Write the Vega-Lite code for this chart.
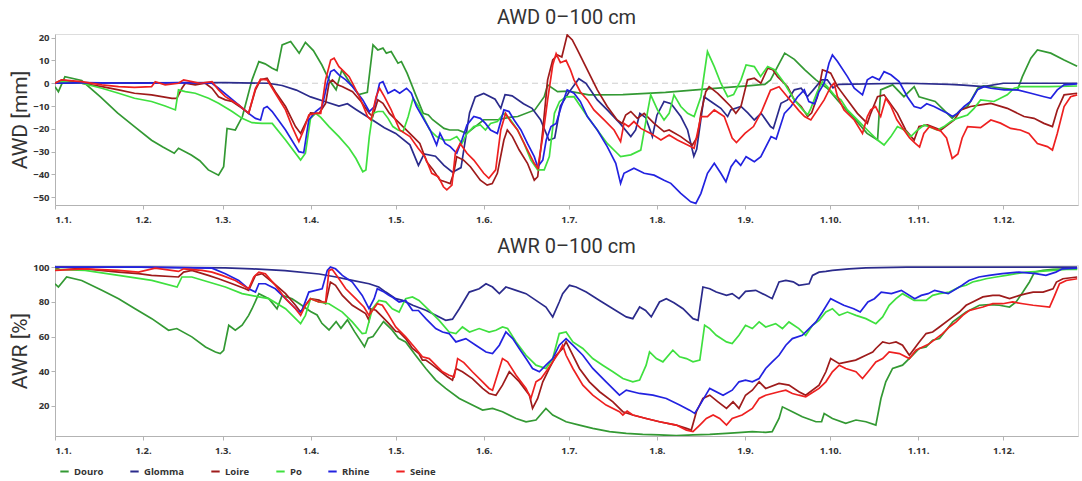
{
"$schema": "https://vega.github.io/schema/vega-lite/v6.json",
"background": "white",
"padding": {"left": 9, "top": 7, "right": 0, "bottom": 0},
"config": {
  "font": "Open Sans",
  "view": {"stroke": "#dddddd"},
  "axis": {"domainColor": "#b3b3b3", "tickColor": "#b3b3b3", "grid": false, "labelFont": "Open Sans", "labelFontWeight": "bold", "labelFontSize": 9.5, "labelColor": "#333333", "labelOverlap": false, "titleFont": "Roboto", "titleFontWeight": "normal", "titleFontSize": 21, "titleColor": "#333333", "tickSize": 4},
  "axisX": {"labelPadding": 5},
  "axisY": {"titlePadding": 2},
  "title": {"font": "Roboto", "fontSize": 20, "fontWeight": "normal", "color": "#333333", "anchor": "middle", "offset": 5},
  "legend": {"orient": "none", "legendX": 4, "legendY": 432, "direction": "horizontal", "symbolType": "stroke", "symbolStrokeWidth": 2, "symbolSize": 70, "labelFont": "Open Sans", "labelFontWeight": "bold", "labelFontSize": 9.5, "labelColor": "#333333", "columnPadding": 22, "title": null},
  "concat": {"spacing": 12}
},
"datasets": {
"awd": [
{"r":"Douro","d":0,"v":-1.5},{"r":"Douro","d":1.2,"v":-3.7},{"r":"Douro","d":3.5,"v":2.9},{"r":"Douro","d":9.4,"v":1.2},{"r":"Douro","d":16,"v":-6},{"r":"Douro","d":22,"v":-13},{"r":"Douro","d":28,"v":-19},{"r":"Douro","d":34,"v":-25},{"r":"Douro","d":38,"v":-28},{"r":"Douro","d":42,"v":-30.7},{"r":"Douro","d":43.5,"v":-28.5},{"r":"Douro","d":48,"v":-31.5},{"r":"Douro","d":51,"v":-34},{"r":"Douro","d":54,"v":-38},{"r":"Douro","d":57.6,"v":-40.3},{"r":"Douro","d":59.4,"v":-36.6},{"r":"Douro","d":60.6,"v":-19.8},{"r":"Douro","d":63.5,"v":-20.5},{"r":"Douro","d":66,"v":-14.6},{"r":"Douro","d":69.4,"v":1.5},{"r":"Douro","d":71.8,"v":9.5},{"r":"Douro","d":74,"v":8.5},{"r":"Douro","d":76.5,"v":6.6},{"r":"Douro","d":78.2,"v":5.6},{"r":"Douro","d":80,"v":16.8},{"r":"Douro","d":83,"v":18.3},{"r":"Douro","d":86,"v":13.2},{"r":"Douro","d":88.2,"v":17.9},{"r":"Douro","d":91,"v":14.3},{"r":"Douro","d":94,"v":8},{"r":"Douro","d":96.5,"v":1.5},{"r":"Douro","d":99,"v":-2.9},{"r":"Douro","d":101,"v":5.8},{"r":"Douro","d":104,"v":0},{"r":"Douro","d":107,"v":-5},{"r":"Douro","d":110,"v":-4},{"r":"Douro","d":112,"v":16.8},{"r":"Douro","d":113.7,"v":14.6},{"r":"Douro","d":115.5,"v":15.4},{"r":"Douro","d":116.7,"v":13.2},{"r":"Douro","d":118.4,"v":13.9},{"r":"Douro","d":120.8,"v":8.8},{"r":"Douro","d":122,"v":9.5},{"r":"Douro","d":124,"v":4.4},{"r":"Douro","d":127,"v":-5},{"r":"Douro","d":129.7,"v":-13.2},{"r":"Douro","d":131.5,"v":-13.9},{"r":"Douro","d":133,"v":-16},{"r":"Douro","d":137,"v":-19.8},{"r":"Douro","d":139,"v":-20.5},{"r":"Douro","d":142,"v":-20.5},{"r":"Douro","d":145,"v":-22},{"r":"Douro","d":148,"v":-19},{"r":"Douro","d":151,"v":-16},{"r":"Douro","d":156,"v":-16},{"r":"Douro","d":160,"v":-15},{"r":"Douro","d":163,"v":-14.6},{"r":"Douro","d":169,"v":-11.7},{"r":"Douro","d":172.3,"v":-5.9},{"r":"Douro","d":173.5,"v":-0.7},{"r":"Douro","d":177,"v":-3.7},{"r":"Douro","d":181,"v":-3.5},{"r":"Douro","d":188,"v":-5.1},{"r":"Douro","d":200,"v":-5},{"r":"Douro","d":215,"v":-4},{"r":"Douro","d":230,"v":-2.5},{"r":"Douro","d":245,"v":-1},{"r":"Douro","d":250,"v":-0.5},{"r":"Douro","d":252,"v":1.5},{"r":"Douro","d":257,"v":13.2},{"r":"Douro","d":260.4,"v":10.5},{"r":"Douro","d":264,"v":6},{"r":"Douro","d":268,"v":1.5},{"r":"Douro","d":272,"v":-2.2},{"r":"Douro","d":276,"v":-8},{"r":"Douro","d":281.5,"v":-15.4},{"r":"Douro","d":286,"v":-22},{"r":"Douro","d":289.7,"v":-24.9},{"r":"Douro","d":290.8,"v":-2.9},{"r":"Douro","d":295,"v":-0.7},{"r":"Douro","d":299,"v":-5.9},{"r":"Douro","d":302.6,"v":-1.5},{"r":"Douro","d":304.3,"v":-5.9},{"r":"Douro","d":310,"v":-8},{"r":"Douro","d":313,"v":-11.7},{"r":"Douro","d":316,"v":-15.4},{"r":"Douro","d":319,"v":-11.7},{"r":"Douro","d":321.4,"v":-10.2},{"r":"Douro","d":325,"v":-2.2},{"r":"Douro","d":327,"v":-1.2},{"r":"Douro","d":334,"v":-2.2},{"r":"Douro","d":339,"v":-2.9},{"r":"Douro","d":340.7,"v":2.9},{"r":"Douro","d":343.7,"v":11},{"r":"Douro","d":346,"v":14.6},{"r":"Douro","d":350.7,"v":13.2},{"r":"Douro","d":355.4,"v":10.2},{"r":"Douro","d":360,"v":7.5},
{"r":"Glomma","d":0,"v":0},{"r":"Glomma","d":30,"v":0.2},{"r":"Glomma","d":60,"v":0.3},{"r":"Glomma","d":75,"v":0},{"r":"Glomma","d":80,"v":-1},{"r":"Glomma","d":85,"v":-3},{"r":"Glomma","d":90,"v":-6},{"r":"Glomma","d":95,"v":-8},{"r":"Glomma","d":100,"v":-10},{"r":"Glomma","d":103,"v":-9},{"r":"Glomma","d":106,"v":-11.5},{"r":"Glomma","d":111,"v":-15.5},{"r":"Glomma","d":116,"v":-19.5},{"r":"Glomma","d":120,"v":-22},{"r":"Glomma","d":125,"v":-27},{"r":"Glomma","d":128,"v":-36},{"r":"Glomma","d":130,"v":-31},{"r":"Glomma","d":134,"v":-32},{"r":"Glomma","d":137,"v":-36},{"r":"Glomma","d":140,"v":-39},{"r":"Glomma","d":143,"v":-37},{"r":"Glomma","d":146,"v":-13},{"r":"Glomma","d":148,"v":-6},{"r":"Glomma","d":151,"v":-4.5},{"r":"Glomma","d":155,"v":-7},{"r":"Glomma","d":157,"v":-11},{"r":"Glomma","d":158.5,"v":-5},{"r":"Glomma","d":161,"v":-5.5},{"r":"Glomma","d":165,"v":-9},{"r":"Glomma","d":168,"v":-11},{"r":"Glomma","d":171,"v":-16},{"r":"Glomma","d":174,"v":-25},{"r":"Glomma","d":176,"v":-24},{"r":"Glomma","d":178,"v":-10},{"r":"Glomma","d":181,"v":-4},{"r":"Glomma","d":184.5,"v":2},{"r":"Glomma","d":187,"v":0},{"r":"Glomma","d":191,"v":-7.3},{"r":"Glomma","d":194.5,"v":-11.7},{"r":"Glomma","d":199,"v":-17.6},{"r":"Glomma","d":202.8,"v":-23.4},{"r":"Glomma","d":204.5,"v":-20.5},{"r":"Glomma","d":206,"v":-13.2},{"r":"Glomma","d":208,"v":-15},{"r":"Glomma","d":210.4,"v":-23.4},{"r":"Glomma","d":212,"v":-14},{"r":"Glomma","d":214.5,"v":-8},{"r":"Glomma","d":217,"v":-9},{"r":"Glomma","d":220.4,"v":-14.6},{"r":"Glomma","d":222.8,"v":-20.5},{"r":"Glomma","d":225,"v":-32},{"r":"Glomma","d":226,"v":-29},{"r":"Glomma","d":228.6,"v":-5.9},{"r":"Glomma","d":231,"v":-8},{"r":"Glomma","d":234.5,"v":-11},{"r":"Glomma","d":236.9,"v":-14.6},{"r":"Glomma","d":238,"v":-11.7},{"r":"Glomma","d":241.6,"v":-10.2},{"r":"Glomma","d":244,"v":-13},{"r":"Glomma","d":246.3,"v":-16.1},{"r":"Glomma","d":248.7,"v":-13.2},{"r":"Glomma","d":252,"v":-19},{"r":"Glomma","d":253,"v":-19.8},{"r":"Glomma","d":255.7,"v":-8.8},{"r":"Glomma","d":258,"v":-7.3},{"r":"Glomma","d":260.4,"v":-2.9},{"r":"Glomma","d":262.8,"v":-2.2},{"r":"Glomma","d":265,"v":-5.9},{"r":"Glomma","d":267,"v":-3},{"r":"Glomma","d":270,"v":1.5},{"r":"Glomma","d":272,"v":1.5},{"r":"Glomma","d":274,"v":-2},{"r":"Glomma","d":276,"v":-0.5},{"r":"Glomma","d":300,"v":0},{"r":"Glomma","d":315,"v":-0.5},{"r":"Glomma","d":320,"v":-0.8},{"r":"Glomma","d":327,"v":-1.5},{"r":"Glomma","d":334,"v":0},{"r":"Glomma","d":360,"v":0},
{"r":"Loire","d":0,"v":0},{"r":"Loire","d":2.4,"v":1.5},{"r":"Loire","d":9.4,"v":0},{"r":"Loire","d":16.5,"v":-1.5},{"r":"Loire","d":22.4,"v":-2.9},{"r":"Loire","d":28,"v":-4.4},{"r":"Loire","d":34,"v":-5.1},{"r":"Loire","d":37.6,"v":-5.9},{"r":"Loire","d":41.2,"v":-6.6},{"r":"Loire","d":42.9,"v":-6.6},{"r":"Loire","d":44.7,"v":-2.2},{"r":"Loire","d":45.9,"v":0},{"r":"Loire","d":49.4,"v":-0.7},{"r":"Loire","d":52.9,"v":0},{"r":"Loire","d":55.3,"v":-2.2},{"r":"Loire","d":57.6,"v":-5.9},{"r":"Loire","d":60,"v":-7.3},{"r":"Loire","d":62.4,"v":-8},{"r":"Loire","d":65.9,"v":-11},{"r":"Loire","d":68.2,"v":-13.2},{"r":"Loire","d":70.6,"v":-2.9},{"r":"Loire","d":72.4,"v":1.5},{"r":"Loire","d":74.7,"v":2.2},{"r":"Loire","d":77.6,"v":-3.7},{"r":"Loire","d":81.2,"v":-10.2},{"r":"Loire","d":84.7,"v":-19},{"r":"Loire","d":86.5,"v":-22},{"r":"Loire","d":88.2,"v":-17.6},{"r":"Loire","d":90,"v":-13},{"r":"Loire","d":93,"v":-13.2},{"r":"Loire","d":95.3,"v":-8.8},{"r":"Loire","d":96.5,"v":0},{"r":"Loire","d":97.7,"v":1.5},{"r":"Loire","d":99.5,"v":-0.7},{"r":"Loire","d":101.3,"v":-1.5},{"r":"Loire","d":104.8,"v":-3.7},{"r":"Loire","d":107.8,"v":-8},{"r":"Loire","d":110.7,"v":-13.2},{"r":"Loire","d":111.9,"v":-14.6},{"r":"Loire","d":113.7,"v":-7.3},{"r":"Loire","d":115.5,"v":-8.8},{"r":"Loire","d":117.8,"v":-13.2},{"r":"Loire","d":121.4,"v":-17.6},{"r":"Loire","d":126.1,"v":-23.4},{"r":"Loire","d":128.5,"v":-26.4},{"r":"Loire","d":130.9,"v":-34.4},{"r":"Loire","d":133.2,"v":-38},{"r":"Loire","d":135.6,"v":-42.5},{"r":"Loire","d":137.4,"v":-43.2},{"r":"Loire","d":139.2,"v":-44},{"r":"Loire","d":140.4,"v":-39.5},{"r":"Loire","d":141.5,"v":-32.2},{"r":"Loire","d":143.9,"v":-33.7},{"r":"Loire","d":146.3,"v":-36.6},{"r":"Loire","d":149.8,"v":-42.5},{"r":"Loire","d":152.2,"v":-44.7},{"r":"Loire","d":154,"v":-44},{"r":"Loire","d":155.8,"v":-39.5},{"r":"Loire","d":158.1,"v":-24.9},{"r":"Loire","d":159.3,"v":-20.5},{"r":"Loire","d":161.1,"v":-23.4},{"r":"Loire","d":163.5,"v":-29.3},{"r":"Loire","d":166.4,"v":-35.1},{"r":"Loire","d":168.8,"v":-42.5},{"r":"Loire","d":170,"v":-41},{"r":"Loire","d":171.8,"v":-20.5},{"r":"Loire","d":173.5,"v":1.5},{"r":"Loire","d":175.3,"v":10.2},{"r":"Loire","d":177,"v":12.4},{"r":"Loire","d":178.5,"v":11.5},{"r":"Loire","d":180.4,"v":21.2},{"r":"Loire","d":182.2,"v":19},{"r":"Loire","d":184,"v":14.6},{"r":"Loire","d":187.5,"v":5.9},{"r":"Loire","d":191,"v":-2.9},{"r":"Loire","d":194.5,"v":-10.2},{"r":"Loire","d":198,"v":-16.1},{"r":"Loire","d":199.8,"v":-17.6},{"r":"Loire","d":201,"v":-13.9},{"r":"Loire","d":202.8,"v":-12.4},{"r":"Loire","d":205.1,"v":-15.4},{"r":"Loire","d":207.5,"v":-13.2},{"r":"Loire","d":211,"v":-17.6},{"r":"Loire","d":214.5,"v":-21.2},{"r":"Loire","d":216.3,"v":-20.5},{"r":"Loire","d":220.4,"v":-23.4},{"r":"Loire","d":222.8,"v":-25.6},{"r":"Loire","d":224.5,"v":-27.1},{"r":"Loire","d":226.3,"v":-23.4},{"r":"Loire","d":227.5,"v":-13.2},{"r":"Loire","d":229.2,"v":-3.7},{"r":"Loire","d":230.4,"v":-1.5},{"r":"Loire","d":233.4,"v":-4.4},{"r":"Loire","d":235.7,"v":-7.3},{"r":"Loire","d":238,"v":-10.2},{"r":"Loire","d":239.8,"v":-13.2},{"r":"Loire","d":241.6,"v":-10.2},{"r":"Loire","d":243.9,"v":1.5},{"r":"Loire","d":246.3,"v":2.2},{"r":"Loire","d":248.6,"v":0},{"r":"Loire","d":251,"v":6.6},{"r":"Loire","d":252.8,"v":5.9},{"r":"Loire","d":254.5,"v":2.9},{"r":"Loire","d":258,"v":-1.5},{"r":"Loire","d":260.4,"v":-7.3},{"r":"Loire","d":262.8,"v":-10.2},{"r":"Loire","d":265.1,"v":-14.6},{"r":"Loire","d":266.5,"v":-13},{"r":"Loire","d":268.5,"v":-5.9},{"r":"Loire","d":270.3,"v":5.9},{"r":"Loire","d":272,"v":5.1},{"r":"Loire","d":273.2,"v":4.4},{"r":"Loire","d":275.6,"v":-1.5},{"r":"Loire","d":279.1,"v":-7.3},{"r":"Loire","d":282.6,"v":-13.2},{"r":"Loire","d":286.1,"v":-17.6},{"r":"Loire","d":287.3,"v":-13.2},{"r":"Loire","d":289.7,"v":-5.9},{"r":"Loire","d":292,"v":-5.1},{"r":"Loire","d":296.7,"v":-13.2},{"r":"Loire","d":299.6,"v":-20.5},{"r":"Loire","d":302.6,"v":-24.9},{"r":"Loire","d":304.3,"v":-19},{"r":"Loire","d":307.3,"v":-18.3},{"r":"Loire","d":312,"v":-20.5},{"r":"Loire","d":316.7,"v":-16.1},{"r":"Loire","d":319,"v":-11.7},{"r":"Loire","d":322.5,"v":-10.2},{"r":"Loire","d":326,"v":-9.5},{"r":"Loire","d":329.6,"v":-8.8},{"r":"Loire","d":335.4,"v":-11},{"r":"Loire","d":341.3,"v":-14.6},{"r":"Loire","d":344.8,"v":-15.4},{"r":"Loire","d":348.3,"v":-17.6},{"r":"Loire","d":351.3,"v":-19},{"r":"Loire","d":353,"v":-11.7},{"r":"Loire","d":355.4,"v":-5.1},{"r":"Loire","d":360,"v":-4.4},
{"r":"Po","d":0,"v":0},{"r":"Po","d":2.4,"v":0.7},{"r":"Po","d":9.4,"v":0},{"r":"Po","d":16.5,"v":-2.2},{"r":"Po","d":22.4,"v":-4.4},{"r":"Po","d":28,"v":-6.6},{"r":"Po","d":34,"v":-8},{"r":"Po","d":38.8,"v":-10},{"r":"Po","d":42.4,"v":-11.7},{"r":"Po","d":43.5,"v":-2.9},{"r":"Po","d":45.9,"v":-3.7},{"r":"Po","d":49.4,"v":-4.4},{"r":"Po","d":54.1,"v":-6.6},{"r":"Po","d":57.6,"v":-8.8},{"r":"Po","d":62.4,"v":-12.4},{"r":"Po","d":65.9,"v":-15.4},{"r":"Po","d":69.4,"v":-17.3},{"r":"Po","d":72.9,"v":-17.6},{"r":"Po","d":76.5,"v":-17.6},{"r":"Po","d":81.2,"v":-24.9},{"r":"Po","d":86.5,"v":-33.7},{"r":"Po","d":88.2,"v":-30.7},{"r":"Po","d":90,"v":-15.4},{"r":"Po","d":91.8,"v":-13.2},{"r":"Po","d":93.6,"v":-15},{"r":"Po","d":96.5,"v":-19},{"r":"Po","d":100,"v":-23.4},{"r":"Po","d":103.6,"v":-28.5},{"r":"Po","d":106,"v":-33},{"r":"Po","d":108.4,"v":-38.8},{"r":"Po","d":109.5,"v":-38},{"r":"Po","d":110.7,"v":-23.4},{"r":"Po","d":111.9,"v":-13.2},{"r":"Po","d":113.7,"v":-12.4},{"r":"Po","d":115.5,"v":-12.4},{"r":"Po","d":117.3,"v":-15.4},{"r":"Po","d":119,"v":-19},{"r":"Po","d":120.8,"v":-20.5},{"r":"Po","d":122.6,"v":-21.2},{"r":"Po","d":124.4,"v":-14.6},{"r":"Po","d":126.1,"v":-6.6},{"r":"Po","d":128,"v":-10.2},{"r":"Po","d":129.7,"v":-14.6},{"r":"Po","d":132,"v":-20.5},{"r":"Po","d":134.4,"v":-23.4},{"r":"Po","d":136.8,"v":-24.9},{"r":"Po","d":139.2,"v":-24.9},{"r":"Po","d":141.5,"v":-23.4},{"r":"Po","d":143.3,"v":-26.4},{"r":"Po","d":145.1,"v":-22},{"r":"Po","d":147.5,"v":-19},{"r":"Po","d":149.8,"v":-18.3},{"r":"Po","d":151.6,"v":-20.5},{"r":"Po","d":153.4,"v":-17.6},{"r":"Po","d":155.8,"v":-16.8},{"r":"Po","d":158.1,"v":-13.2},{"r":"Po","d":160.5,"v":-16.1},{"r":"Po","d":162.9,"v":-20.5},{"r":"Po","d":165.2,"v":-26.4},{"r":"Po","d":167.6,"v":-33.7},{"r":"Po","d":170,"v":-38},{"r":"Po","d":172.3,"v":-38},{"r":"Po","d":174.1,"v":-32.2},{"r":"Po","d":175.9,"v":-13.2},{"r":"Po","d":177.7,"v":-8},{"r":"Po","d":180,"v":-6},{"r":"Po","d":182.8,"v":-5.9},{"r":"Po","d":185,"v":-10},{"r":"Po","d":187.5,"v":-14.6},{"r":"Po","d":191,"v":-20.5},{"r":"Po","d":194.5,"v":-26.4},{"r":"Po","d":198,"v":-30.7},{"r":"Po","d":199.2,"v":-32.2},{"r":"Po","d":202.8,"v":-31.4},{"r":"Po","d":206.3,"v":-29.3},{"r":"Po","d":208.6,"v":-13.2},{"r":"Po","d":209.8,"v":-5.1},{"r":"Po","d":212.2,"v":-11.7},{"r":"Po","d":214.5,"v":-16.1},{"r":"Po","d":216.3,"v":-13.2},{"r":"Po","d":218,"v":-5.1},{"r":"Po","d":220.4,"v":-10.2},{"r":"Po","d":222.8,"v":-13.2},{"r":"Po","d":225.1,"v":-14.6},{"r":"Po","d":227.5,"v":-5.9},{"r":"Po","d":229.8,"v":13.9},{"r":"Po","d":232.2,"v":7.3},{"r":"Po","d":234.5,"v":0},{"r":"Po","d":236.9,"v":-5.9},{"r":"Po","d":239,"v":-5},{"r":"Po","d":241.6,"v":1.5},{"r":"Po","d":243.4,"v":8},{"r":"Po","d":246.3,"v":7.3},{"r":"Po","d":248.5,"v":3},{"r":"Po","d":251,"v":7.3},{"r":"Po","d":253.4,"v":5.9},{"r":"Po","d":256.9,"v":0},{"r":"Po","d":260.4,"v":-7.3},{"r":"Po","d":263.4,"v":-11.7},{"r":"Po","d":265.1,"v":-13.9},{"r":"Po","d":266.2,"v":-11},{"r":"Po","d":268.5,"v":-3.7},{"r":"Po","d":270.3,"v":0.7},{"r":"Po","d":272,"v":-1.5},{"r":"Po","d":274.4,"v":-5.1},{"r":"Po","d":276.8,"v":-7.3},{"r":"Po","d":279.1,"v":-11.7},{"r":"Po","d":282.6,"v":-16.1},{"r":"Po","d":286.1,"v":-20.5},{"r":"Po","d":289.7,"v":-24.9},{"r":"Po","d":292,"v":-27.1},{"r":"Po","d":294.4,"v":-23.4},{"r":"Po","d":296.7,"v":-19},{"r":"Po","d":299.1,"v":-20.5},{"r":"Po","d":301.4,"v":-23.4},{"r":"Po","d":303.8,"v":-20.5},{"r":"Po","d":306.1,"v":-18.3},{"r":"Po","d":310.8,"v":-20.5},{"r":"Po","d":313.1,"v":-19},{"r":"Po","d":315.5,"v":-16.8},{"r":"Po","d":317.8,"v":-15.4},{"r":"Po","d":321.4,"v":-13.9},{"r":"Po","d":323.7,"v":-11},{"r":"Po","d":326,"v":-7.3},{"r":"Po","d":330.7,"v":-8},{"r":"Po","d":335.4,"v":-5.1},{"r":"Po","d":337.8,"v":-2.2},{"r":"Po","d":340,"v":-1.5},{"r":"Po","d":350,"v":-1.5},{"r":"Po","d":360,"v":-1.2},
{"r":"Rhine","d":0,"v":0},{"r":"Rhine","d":10,"v":0.3},{"r":"Rhine","d":30,"v":0},{"r":"Rhine","d":45,"v":0.3},{"r":"Rhine","d":55.3,"v":0},{"r":"Rhine","d":57.6,"v":-2.2},{"r":"Rhine","d":61.2,"v":-5.9},{"r":"Rhine","d":64.7,"v":-9.5},{"r":"Rhine","d":68.2,"v":-13.2},{"r":"Rhine","d":70.6,"v":-15.4},{"r":"Rhine","d":72.4,"v":-16.1},{"r":"Rhine","d":73.5,"v":-11},{"r":"Rhine","d":74.7,"v":-10.2},{"r":"Rhine","d":76.5,"v":-12.4},{"r":"Rhine","d":81.2,"v":-20.5},{"r":"Rhine","d":85.9,"v":-30},{"r":"Rhine","d":87.6,"v":-30.5},{"r":"Rhine","d":89.4,"v":-16.1},{"r":"Rhine","d":91.8,"v":-12.4},{"r":"Rhine","d":94.1,"v":-10.2},{"r":"Rhine","d":95.9,"v":0},{"r":"Rhine","d":97.1,"v":5.1},{"r":"Rhine","d":98.3,"v":5.9},{"r":"Rhine","d":100,"v":3.7},{"r":"Rhine","d":102.4,"v":1.5},{"r":"Rhine","d":104.8,"v":-1.5},{"r":"Rhine","d":108.4,"v":-7.3},{"r":"Rhine","d":110.7,"v":-12.4},{"r":"Rhine","d":112.5,"v":-10.2},{"r":"Rhine","d":114.3,"v":0},{"r":"Rhine","d":115.5,"v":0.7},{"r":"Rhine","d":117.3,"v":-4.4},{"r":"Rhine","d":119.6,"v":-2.9},{"r":"Rhine","d":121.4,"v":-4.4},{"r":"Rhine","d":123.8,"v":-2.2},{"r":"Rhine","d":125.5,"v":-4.4},{"r":"Rhine","d":127.3,"v":-10.2},{"r":"Rhine","d":129.7,"v":-15.4},{"r":"Rhine","d":132.1,"v":-20.5},{"r":"Rhine","d":134.4,"v":-27.1},{"r":"Rhine","d":135.6,"v":-22},{"r":"Rhine","d":137.4,"v":-26.4},{"r":"Rhine","d":139.2,"v":-27.8},{"r":"Rhine","d":141.5,"v":-30.7},{"r":"Rhine","d":143.3,"v":-24.9},{"r":"Rhine","d":145.1,"v":-18.3},{"r":"Rhine","d":147.5,"v":-14.6},{"r":"Rhine","d":149.8,"v":-15.4},{"r":"Rhine","d":151.6,"v":-17.6},{"r":"Rhine","d":153.4,"v":-20.5},{"r":"Rhine","d":155.8,"v":-22},{"r":"Rhine","d":158.1,"v":-11.7},{"r":"Rhine","d":159.9,"v":-12.4},{"r":"Rhine","d":161.7,"v":-16.1},{"r":"Rhine","d":164.1,"v":-20.5},{"r":"Rhine","d":166.4,"v":-26.4},{"r":"Rhine","d":168.8,"v":-32.2},{"r":"Rhine","d":170,"v":-36.6},{"r":"Rhine","d":171.8,"v":-33.7},{"r":"Rhine","d":173,"v":-24.9},{"r":"Rhine","d":174.7,"v":-19},{"r":"Rhine","d":176.5,"v":-17.6},{"r":"Rhine","d":178.3,"v":-10.2},{"r":"Rhine","d":180.4,"v":-2.9},{"r":"Rhine","d":182.8,"v":-4.4},{"r":"Rhine","d":185,"v":-8},{"r":"Rhine","d":187.5,"v":-14.6},{"r":"Rhine","d":191,"v":-20.5},{"r":"Rhine","d":194.5,"v":-27.8},{"r":"Rhine","d":197.5,"v":-35.1},{"r":"Rhine","d":199.2,"v":-43.9},{"r":"Rhine","d":200.4,"v":-39.5},{"r":"Rhine","d":203.9,"v":-37.3},{"r":"Rhine","d":207.5,"v":-39.5},{"r":"Rhine","d":211,"v":-40.3},{"r":"Rhine","d":214.5,"v":-42.5},{"r":"Rhine","d":216.9,"v":-43.9},{"r":"Rhine","d":220.4,"v":-48.3},{"r":"Rhine","d":223.9,"v":-52},{"r":"Rhine","d":225.7,"v":-52.7},{"r":"Rhine","d":227.5,"v":-48.3},{"r":"Rhine","d":229.8,"v":-39.5},{"r":"Rhine","d":232.2,"v":-35.1},{"r":"Rhine","d":234.5,"v":-39.5},{"r":"Rhine","d":236.3,"v":-43.2},{"r":"Rhine","d":238.1,"v":-36.6},{"r":"Rhine","d":239.8,"v":-33.7},{"r":"Rhine","d":241.5,"v":-36},{"r":"Rhine","d":243.4,"v":-32.2},{"r":"Rhine","d":246.3,"v":-34.4},{"r":"Rhine","d":248.6,"v":-32.2},{"r":"Rhine","d":252.2,"v":-23.4},{"r":"Rhine","d":254,"v":-24.5},{"r":"Rhine","d":256.9,"v":-13.2},{"r":"Rhine","d":259.2,"v":-10.2},{"r":"Rhine","d":261.5,"v":-6},{"r":"Rhine","d":263.9,"v":-2.9},{"r":"Rhine","d":265.5,"v":-8},{"r":"Rhine","d":267.5,"v":-9},{"r":"Rhine","d":269,"v":-4},{"r":"Rhine","d":270.9,"v":0},{"r":"Rhine","d":272.6,"v":8.8},{"r":"Rhine","d":273.8,"v":12.4},{"r":"Rhine","d":275.6,"v":9.5},{"r":"Rhine","d":279.1,"v":2.9},{"r":"Rhine","d":281.5,"v":-2.2},{"r":"Rhine","d":284.4,"v":-5.1},{"r":"Rhine","d":286.1,"v":1.5},{"r":"Rhine","d":287.9,"v":2.9},{"r":"Rhine","d":290.3,"v":1.5},{"r":"Rhine","d":292,"v":5.1},{"r":"Rhine","d":294.4,"v":3.7},{"r":"Rhine","d":297.3,"v":0.7},{"r":"Rhine","d":300.2,"v":-5.9},{"r":"Rhine","d":302.6,"v":-10.2},{"r":"Rhine","d":304.9,"v":-11},{"r":"Rhine","d":307,"v":-9},{"r":"Rhine","d":309.6,"v":-10.2},{"r":"Rhine","d":312,"v":-11.7},{"r":"Rhine","d":314.3,"v":-13.2},{"r":"Rhine","d":316.1,"v":-14.6},{"r":"Rhine","d":317.8,"v":-13.2},{"r":"Rhine","d":320.2,"v":-10.2},{"r":"Rhine","d":322.5,"v":-8},{"r":"Rhine","d":324.9,"v":-2.9},{"r":"Rhine","d":327.2,"v":-1.5},{"r":"Rhine","d":329.6,"v":-2.2},{"r":"Rhine","d":334.3,"v":-2.9},{"r":"Rhine","d":339,"v":-2.9},{"r":"Rhine","d":343.7,"v":-4.4},{"r":"Rhine","d":348.4,"v":-5.9},{"r":"Rhine","d":350.7,"v":-6.6},{"r":"Rhine","d":353,"v":-2.9},{"r":"Rhine","d":355.4,"v":-0.7},{"r":"Rhine","d":360,"v":-0.3},
{"r":"Seine","d":0,"v":0},{"r":"Seine","d":2.4,"v":1.5},{"r":"Seine","d":9.4,"v":0.7},{"r":"Seine","d":16.5,"v":-0.7},{"r":"Seine","d":22.4,"v":-1.5},{"r":"Seine","d":28,"v":-1.8},{"r":"Seine","d":34,"v":-1.5},{"r":"Seine","d":35.3,"v":0.7},{"r":"Seine","d":38.8,"v":-0.7},{"r":"Seine","d":43.5,"v":0},{"r":"Seine","d":45.3,"v":1.5},{"r":"Seine","d":48.2,"v":0.7},{"r":"Seine","d":51,"v":0},{"r":"Seine","d":55.3,"v":0.7},{"r":"Seine","d":57.6,"v":-2.9},{"r":"Seine","d":60,"v":-5.9},{"r":"Seine","d":64.7,"v":-9.5},{"r":"Seine","d":68.2,"v":-13.2},{"r":"Seine","d":70.6,"v":-2.2},{"r":"Seine","d":72.4,"v":1.8},{"r":"Seine","d":74.7,"v":1.5},{"r":"Seine","d":77.6,"v":-4.4},{"r":"Seine","d":81.2,"v":-11.7},{"r":"Seine","d":83.5,"v":-19},{"r":"Seine","d":85.9,"v":-25.6},{"r":"Seine","d":87.6,"v":-20.5},{"r":"Seine","d":89.4,"v":-13.9},{"r":"Seine","d":91.8,"v":-13.2},{"r":"Seine","d":93.6,"v":-13.2},{"r":"Seine","d":95.3,"v":1.5},{"r":"Seine","d":97.1,"v":10.2},{"r":"Seine","d":98.3,"v":11},{"r":"Seine","d":100,"v":7.3},{"r":"Seine","d":101.8,"v":5.1},{"r":"Seine","d":103.6,"v":2.9},{"r":"Seine","d":107.2,"v":-5.9},{"r":"Seine","d":110.1,"v":-14.6},{"r":"Seine","d":111.3,"v":-16.1},{"r":"Seine","d":113.1,"v":-5.9},{"r":"Seine","d":114.3,"v":-2.2},{"r":"Seine","d":116,"v":-5.9},{"r":"Seine","d":118.4,"v":-11.7},{"r":"Seine","d":121.4,"v":-20.5},{"r":"Seine","d":125,"v":-23.4},{"r":"Seine","d":127.9,"v":-28.5},{"r":"Seine","d":130.3,"v":-32.2},{"r":"Seine","d":132.7,"v":-39.5},{"r":"Seine","d":135,"v":-41},{"r":"Seine","d":136.8,"v":-45.4},{"r":"Seine","d":138,"v":-46.8},{"r":"Seine","d":139.8,"v":-44.7},{"r":"Seine","d":141,"v":-30.7},{"r":"Seine","d":142.7,"v":-26.4},{"r":"Seine","d":145.1,"v":-30.7},{"r":"Seine","d":147.5,"v":-33.7},{"r":"Seine","d":151,"v":-39.5},{"r":"Seine","d":152.8,"v":-41.7},{"r":"Seine","d":155.2,"v":-38},{"r":"Seine","d":157,"v":-20.5},{"r":"Seine","d":158.7,"v":-13.2},{"r":"Seine","d":160.5,"v":-16.8},{"r":"Seine","d":162.9,"v":-20.5},{"r":"Seine","d":165.8,"v":-27.8},{"r":"Seine","d":168.8,"v":-35.1},{"r":"Seine","d":170,"v":-37.3},{"r":"Seine","d":171.8,"v":-23.4},{"r":"Seine","d":173.5,"v":-7.3},{"r":"Seine","d":175.3,"v":8},{"r":"Seine","d":176.5,"v":13},{"r":"Seine","d":178,"v":9},{"r":"Seine","d":180,"v":10},{"r":"Seine","d":181.5,"v":6},{"r":"Seine","d":182.8,"v":1.5},{"r":"Seine","d":185,"v":-3.7},{"r":"Seine","d":187.5,"v":-7.3},{"r":"Seine","d":189.8,"v":-11.7},{"r":"Seine","d":193.4,"v":-16.1},{"r":"Seine","d":196.9,"v":-20.5},{"r":"Seine","d":199.2,"v":-25.6},{"r":"Seine","d":200.4,"v":-17.6},{"r":"Seine","d":202,"v":-19},{"r":"Seine","d":203.9,"v":-16.8},{"r":"Seine","d":206.3,"v":-19.8},{"r":"Seine","d":209.8,"v":-22},{"r":"Seine","d":213.4,"v":-24.9},{"r":"Seine","d":216.3,"v":-22.7},{"r":"Seine","d":219.2,"v":-24.9},{"r":"Seine","d":222.8,"v":-27.1},{"r":"Seine","d":225.1,"v":-28.5},{"r":"Seine","d":227.5,"v":-14.6},{"r":"Seine","d":229.8,"v":-14.6},{"r":"Seine","d":232.2,"v":-11.7},{"r":"Seine","d":235.7,"v":-14.6},{"r":"Seine","d":238.5,"v":-24},{"r":"Seine","d":240,"v":-26},{"r":"Seine","d":243,"v":-22},{"r":"Seine","d":246,"v":-19},{"r":"Seine","d":249,"v":-12},{"r":"Seine","d":252,"v":-3},{"r":"Seine","d":255,"v":-1.5},{"r":"Seine","d":258,"v":-6},{"r":"Seine","d":262,"v":-12},{"r":"Seine","d":264,"v":-14.6},{"r":"Seine","d":266.2,"v":-16.1},{"r":"Seine","d":270.9,"v":-7.3},{"r":"Seine","d":273.2,"v":-1.5},{"r":"Seine","d":274.4,"v":0},{"r":"Seine","d":275.6,"v":-5.9},{"r":"Seine","d":277.9,"v":-11.7},{"r":"Seine","d":281.5,"v":-16.1},{"r":"Seine","d":284.4,"v":-22},{"r":"Seine","d":286.1,"v":-14.6},{"r":"Seine","d":287.3,"v":-11.7},{"r":"Seine","d":289,"v":-10.2},{"r":"Seine","d":290.8,"v":-14.6},{"r":"Seine","d":292.6,"v":-6.6},{"r":"Seine","d":294.4,"v":-10},{"r":"Seine","d":296.5,"v":-16},{"r":"Seine","d":299,"v":-20.5},{"r":"Seine","d":301,"v":-24},{"r":"Seine","d":303,"v":-26.4},{"r":"Seine","d":304.5,"v":-28},{"r":"Seine","d":306,"v":-22},{"r":"Seine","d":308,"v":-19},{"r":"Seine","d":310,"v":-20},{"r":"Seine","d":312,"v":-21},{"r":"Seine","d":314,"v":-24},{"r":"Seine","d":316,"v":-33},{"r":"Seine","d":318,"v":-31},{"r":"Seine","d":319.5,"v":-24},{"r":"Seine","d":321.4,"v":-19},{"r":"Seine","d":326,"v":-19.5},{"r":"Seine","d":329.6,"v":-16.1},{"r":"Seine","d":333,"v":-17.5},{"r":"Seine","d":336.6,"v":-19.8},{"r":"Seine","d":340,"v":-20.5},{"r":"Seine","d":343,"v":-22},{"r":"Seine","d":346,"v":-26.4},{"r":"Seine","d":349.5,"v":-27.8},{"r":"Seine","d":351.3,"v":-29.3},{"r":"Seine","d":353,"v":-22},{"r":"Seine","d":355.4,"v":-10.2},{"r":"Seine","d":357.7,"v":-5.9},{"r":"Seine","d":360,"v":-5.1}
],
"awr": [
{"r":"Douro","d":0,"v":90.4},{"r":"Douro","d":1.2,"v":88.5},{"r":"Douro","d":4.1,"v":94.3},{"r":"Douro","d":9.4,"v":92.3},{"r":"Douro","d":16.5,"v":86.6},{"r":"Douro","d":22.4,"v":81.8},{"r":"Douro","d":28.2,"v":76},{"r":"Douro","d":34.1,"v":70.3},{"r":"Douro","d":40,"v":63.6},{"r":"Douro","d":42.9,"v":64.6},{"r":"Douro","d":48.2,"v":59.8},{"r":"Douro","d":53,"v":54},{"r":"Douro","d":56.5,"v":51.1},{"r":"Douro","d":58.2,"v":50.2},{"r":"Douro","d":59.4,"v":52},{"r":"Douro","d":61.2,"v":66.5},{"r":"Douro","d":63.5,"v":63.6},{"r":"Douro","d":65.9,"v":66.5},{"r":"Douro","d":68.2,"v":72.2},{"r":"Douro","d":69.4,"v":76},{"r":"Douro","d":71.8,"v":84.7},{"r":"Douro","d":75.3,"v":81.8},{"r":"Douro","d":78.2,"v":76},{"r":"Douro","d":80,"v":83.7},{"r":"Douro","d":83.5,"v":81.8},{"r":"Douro","d":86,"v":79},{"r":"Douro","d":90,"v":74.4},{"r":"Douro","d":92.3,"v":72.4},{"r":"Douro","d":94,"v":67.6},{"r":"Douro","d":96.5,"v":63.8},{"r":"Douro","d":99,"v":68.6},{"r":"Douro","d":100.7,"v":64.7},{"r":"Douro","d":103,"v":69.6},{"r":"Douro","d":105.5,"v":62.8},{"r":"Douro","d":109,"v":54.1},{"r":"Douro","d":110.3,"v":59},{"r":"Douro","d":112,"v":60},{"r":"Douro","d":114,"v":64.7},{"r":"Douro","d":115.7,"v":68.6},{"r":"Douro","d":118.7,"v":63.8},{"r":"Douro","d":121,"v":59},{"r":"Douro","d":123.5,"v":56.9},{"r":"Douro","d":127,"v":49.2},{"r":"Douro","d":130.6,"v":41.6},{"r":"Douro","d":134.1,"v":34.9},{"r":"Douro","d":137.6,"v":30.1},{"r":"Douro","d":142.4,"v":24.3},{"r":"Douro","d":147,"v":20.5},{"r":"Douro","d":150.6,"v":17.6},{"r":"Douro","d":154.1,"v":18.6},{"r":"Douro","d":157.6,"v":16.7},{"r":"Douro","d":162.4,"v":12.8},{"r":"Douro","d":165.9,"v":10.9},{"r":"Douro","d":169.4,"v":11.9},{"r":"Douro","d":172.9,"v":18.6},{"r":"Douro","d":175.3,"v":14.8},{"r":"Douro","d":180,"v":10.9},{"r":"Douro","d":184.7,"v":9},{"r":"Douro","d":189.4,"v":7.1},{"r":"Douro","d":195.3,"v":5.2},{"r":"Douro","d":201.2,"v":4.2},{"r":"Douro","d":207,"v":3.6},{"r":"Douro","d":212.9,"v":3.3},{"r":"Douro","d":218.8,"v":2.9},{"r":"Douro","d":224.7,"v":3.3},{"r":"Douro","d":230.6,"v":3.6},{"r":"Douro","d":236.5,"v":4.2},{"r":"Douro","d":240.6,"v":4.6},{"r":"Douro","d":245.6,"v":5.2},{"r":"Douro","d":250.3,"v":4.8},{"r":"Douro","d":252.6,"v":5.2},{"r":"Douro","d":255,"v":12.8},{"r":"Douro","d":256.2,"v":19.5},{"r":"Douro","d":259.7,"v":16.7},{"r":"Douro","d":263.2,"v":13.8},{"r":"Douro","d":268,"v":10.9},{"r":"Douro","d":270,"v":11},{"r":"Douro","d":270.9,"v":15.7},{"r":"Douro","d":273.8,"v":12.8},{"r":"Douro","d":278.5,"v":10},{"r":"Douro","d":282.1,"v":11.9},{"r":"Douro","d":285.6,"v":10.9},{"r":"Douro","d":289.1,"v":9},{"r":"Douro","d":290.9,"v":24.3},{"r":"Douro","d":292.6,"v":33.9},{"r":"Douro","d":295,"v":41.6},{"r":"Douro","d":298.5,"v":43.5},{"r":"Douro","d":302,"v":49.2},{"r":"Douro","d":304.4,"v":53.1},{"r":"Douro","d":306.8,"v":54},{"r":"Douro","d":309.1,"v":57.9},{"r":"Douro","d":311.5,"v":58.8},{"r":"Douro","d":316.2,"v":68.4},{"r":"Douro","d":320.9,"v":74.1},{"r":"Douro","d":323.2,"v":76},{"r":"Douro","d":325.6,"v":78},{"r":"Douro","d":329.1,"v":78.4},{"r":"Douro","d":332.6,"v":78},{"r":"Douro","d":336.2,"v":77},{"r":"Douro","d":338.5,"v":79.9},{"r":"Douro","d":340.9,"v":85.6},{"r":"Douro","d":343.2,"v":91.4},{"r":"Douro","d":345,"v":97.1},{"r":"Douro","d":348,"v":98.1},{"r":"Douro","d":351.5,"v":98.7},{"r":"Douro","d":356.2,"v":99},{"r":"Douro","d":360,"v":99},
{"r":"Glomma","d":0,"v":100},{"r":"Glomma","d":30,"v":100},{"r":"Glomma","d":60,"v":99.5},{"r":"Glomma","d":69.4,"v":99},{"r":"Glomma","d":81,"v":98},{"r":"Glomma","d":93,"v":96},{"r":"Glomma","d":99,"v":94.3},{"r":"Glomma","d":104.7,"v":92.3},{"r":"Glomma","d":110.6,"v":90.4},{"r":"Glomma","d":114,"v":88.5},{"r":"Glomma","d":116.5,"v":85.6},{"r":"Glomma","d":120,"v":81.8},{"r":"Glomma","d":122.4,"v":80.8},{"r":"Glomma","d":126,"v":78},{"r":"Glomma","d":130.6,"v":75.1},{"r":"Glomma","d":134.1,"v":72.2},{"r":"Glomma","d":137.6,"v":69.3},{"r":"Glomma","d":140,"v":70},{"r":"Glomma","d":142.4,"v":76},{"r":"Glomma","d":145.9,"v":85.6},{"r":"Glomma","d":149.4,"v":87.5},{"r":"Glomma","d":151.8,"v":90.4},{"r":"Glomma","d":154.1,"v":88.5},{"r":"Glomma","d":156.5,"v":84.7},{"r":"Glomma","d":158.8,"v":88.5},{"r":"Glomma","d":162.4,"v":86.6},{"r":"Glomma","d":165.9,"v":84.7},{"r":"Glomma","d":169.4,"v":80.8},{"r":"Glomma","d":172.9,"v":77},{"r":"Glomma","d":175.3,"v":71.3},{"r":"Glomma","d":177.6,"v":79.9},{"r":"Glomma","d":178.8,"v":84.7},{"r":"Glomma","d":181.2,"v":89.5},{"r":"Glomma","d":183.5,"v":88.5},{"r":"Glomma","d":187.1,"v":85.6},{"r":"Glomma","d":191.8,"v":80.8},{"r":"Glomma","d":196.5,"v":76},{"r":"Glomma","d":201.2,"v":71.3},{"r":"Glomma","d":203.5,"v":70.3},{"r":"Glomma","d":205.9,"v":77},{"r":"Glomma","d":208,"v":75},{"r":"Glomma","d":210,"v":71.3},{"r":"Glomma","d":212.9,"v":79.9},{"r":"Glomma","d":215.3,"v":81.8},{"r":"Glomma","d":218,"v":79.5},{"r":"Glomma","d":221.2,"v":76},{"r":"Glomma","d":224.7,"v":70.3},{"r":"Glomma","d":226.5,"v":69.3},{"r":"Glomma","d":228.2,"v":88.5},{"r":"Glomma","d":230.6,"v":87.5},{"r":"Glomma","d":232.9,"v":85.6},{"r":"Glomma","d":236.5,"v":83.7},{"r":"Glomma","d":238.5,"v":84.7},{"r":"Glomma","d":240.9,"v":81.8},{"r":"Glomma","d":243.2,"v":86},{"r":"Glomma","d":246.8,"v":86.6},{"r":"Glomma","d":250,"v":84},{"r":"Glomma","d":252.6,"v":81.8},{"r":"Glomma","d":255,"v":91.4},{"r":"Glomma","d":257.4,"v":92.3},{"r":"Glomma","d":260,"v":91.5},{"r":"Glomma","d":262,"v":89.5},{"r":"Glomma","d":265.6,"v":90.4},{"r":"Glomma","d":266.8,"v":95.2},{"r":"Glomma","d":269.1,"v":97.1},{"r":"Glomma","d":271.5,"v":97.5},{"r":"Glomma","d":273.8,"v":98.1},{"r":"Glomma","d":279.7,"v":99},{"r":"Glomma","d":285.6,"v":99.6},{"r":"Glomma","d":300,"v":100},{"r":"Glomma","d":360,"v":100},
{"r":"Loire","d":0,"v":98.7},{"r":"Loire","d":2,"v":100},{"r":"Loire","d":10.6,"v":99},{"r":"Loire","d":22.4,"v":97.1},{"r":"Loire","d":29.4,"v":96.2},{"r":"Loire","d":34,"v":95.2},{"r":"Loire","d":43.5,"v":94.3},{"r":"Loire","d":45.3,"v":97.1},{"r":"Loire","d":48.2,"v":98.1},{"r":"Loire","d":54,"v":95.2},{"r":"Loire","d":57.6,"v":93.3},{"r":"Loire","d":62.4,"v":90.4},{"r":"Loire","d":67,"v":87.5},{"r":"Loire","d":68.2,"v":86.6},{"r":"Loire","d":70.6,"v":95.2},{"r":"Loire","d":72.9,"v":96.2},{"r":"Loire","d":76.5,"v":91.4},{"r":"Loire","d":81.2,"v":84.7},{"r":"Loire","d":84.7,"v":78},{"r":"Loire","d":86.5,"v":74.1},{"r":"Loire","d":88.2,"v":78},{"r":"Loire","d":90,"v":81.8},{"r":"Loire","d":93,"v":81},{"r":"Loire","d":95.3,"v":78.9},{"r":"Loire","d":97,"v":91.4},{"r":"Loire","d":98.8,"v":89.5},{"r":"Loire","d":101.2,"v":83.7},{"r":"Loire","d":104.7,"v":78},{"r":"Loire","d":109.4,"v":73.2},{"r":"Loire","d":110.6,"v":69.3},{"r":"Loire","d":111.2,"v":76},{"r":"Loire","d":113,"v":75.1},{"r":"Loire","d":115.3,"v":71.3},{"r":"Loire","d":117.6,"v":67.4},{"r":"Loire","d":120,"v":63},{"r":"Loire","d":121.2,"v":62.6},{"r":"Loire","d":123.5,"v":58.8},{"r":"Loire","d":125.9,"v":53.1},{"r":"Loire","d":128.2,"v":50.2},{"r":"Loire","d":129.4,"v":46.4},{"r":"Loire","d":130.6,"v":46.4},{"r":"Loire","d":133,"v":43.5},{"r":"Loire","d":135.3,"v":40.6},{"r":"Loire","d":138.2,"v":36.8},{"r":"Loire","d":140,"v":34.9},{"r":"Loire","d":141.2,"v":41.6},{"r":"Loire","d":143.5,"v":39.7},{"r":"Loire","d":147,"v":35.8},{"r":"Loire","d":150.6,"v":30.1},{"r":"Loire","d":152.9,"v":27.2},{"r":"Loire","d":155.3,"v":26.2},{"r":"Loire","d":157.6,"v":32},{"r":"Loire","d":160,"v":39.7},{"r":"Loire","d":163.5,"v":34},{"r":"Loire","d":167.1,"v":26.2},{"r":"Loire","d":168.2,"v":18.6},{"r":"Loire","d":170,"v":24.3},{"r":"Loire","d":171.8,"v":33.9},{"r":"Loire","d":174.1,"v":41.6},{"r":"Loire","d":176.5,"v":49.2},{"r":"Loire","d":178.8,"v":53.1},{"r":"Loire","d":180,"v":57},{"r":"Loire","d":181.8,"v":51.1},{"r":"Loire","d":184.7,"v":41.6},{"r":"Loire","d":188.2,"v":33.9},{"r":"Loire","d":191.8,"v":28.2},{"r":"Loire","d":196.5,"v":22.4},{"r":"Loire","d":198.8,"v":18.6},{"r":"Loire","d":200,"v":16.7},{"r":"Loire","d":203.5,"v":14.8},{"r":"Loire","d":208.2,"v":12.8},{"r":"Loire","d":212.9,"v":10.9},{"r":"Loire","d":218.8,"v":9},{"r":"Loire","d":222.4,"v":7.1},{"r":"Loire","d":224.1,"v":6.1},{"r":"Loire","d":225.9,"v":16.7},{"r":"Loire","d":228.2,"v":24.3},{"r":"Loire","d":230.6,"v":26.2},{"r":"Loire","d":233.5,"v":22.4},{"r":"Loire","d":236.5,"v":18.6},{"r":"Loire","d":238.8,"v":22.4},{"r":"Loire","d":240.9,"v":18.6},{"r":"Loire","d":243.2,"v":26.2},{"r":"Loire","d":245.6,"v":29.1},{"r":"Loire","d":248,"v":33.9},{"r":"Loire","d":250.3,"v":30.1},{"r":"Loire","d":255,"v":33},{"r":"Loire","d":258.5,"v":32},{"r":"Loire","d":262,"v":28.2},{"r":"Loire","d":264.4,"v":26.2},{"r":"Loire","d":269.1,"v":32},{"r":"Loire","d":271.5,"v":39.7},{"r":"Loire","d":273.2,"v":47.3},{"r":"Loire","d":276.2,"v":44.4},{"r":"Loire","d":282,"v":46.4},{"r":"Loire","d":285.6,"v":49.2},{"r":"Loire","d":288,"v":51.1},{"r":"Loire","d":289.1,"v":53.1},{"r":"Loire","d":291.5,"v":56.9},{"r":"Loire","d":293.8,"v":56},{"r":"Loire","d":296.2,"v":56.9},{"r":"Loire","d":298.5,"v":55},{"r":"Loire","d":300.9,"v":49.2},{"r":"Loire","d":304.4,"v":56.9},{"r":"Loire","d":306.8,"v":61.7},{"r":"Loire","d":309.1,"v":62.6},{"r":"Loire","d":311.5,"v":65.5},{"r":"Loire","d":316.2,"v":71.3},{"r":"Loire","d":318.5,"v":74.1},{"r":"Loire","d":320.9,"v":78},{"r":"Loire","d":323.2,"v":79.9},{"r":"Loire","d":326.8,"v":82.8},{"r":"Loire","d":330.3,"v":83.7},{"r":"Loire","d":332.6,"v":83.7},{"r":"Loire","d":336.2,"v":81.8},{"r":"Loire","d":339.7,"v":83.7},{"r":"Loire","d":342.1,"v":84.7},{"r":"Loire","d":344.5,"v":85.6},{"r":"Loire","d":348,"v":85.6},{"r":"Loire","d":351.5,"v":87.5},{"r":"Loire","d":352.7,"v":91.4},{"r":"Loire","d":355,"v":93.3},{"r":"Loire","d":360,"v":94.3},
{"r":"Po","d":0,"v":98.7},{"r":"Po","d":10.6,"v":98.1},{"r":"Po","d":22.4,"v":95.2},{"r":"Po","d":34.1,"v":92.3},{"r":"Po","d":43,"v":88.5},{"r":"Po","d":44.7,"v":94.3},{"r":"Po","d":48.2,"v":94.3},{"r":"Po","d":54.1,"v":91.4},{"r":"Po","d":60,"v":88.5},{"r":"Po","d":65.9,"v":84.7},{"r":"Po","d":71.8,"v":82.8},{"r":"Po","d":75.3,"v":81.8},{"r":"Po","d":81.2,"v":76},{"r":"Po","d":86.5,"v":67.4},{"r":"Po","d":88.2,"v":72.2},{"r":"Po","d":90,"v":81.8},{"r":"Po","d":92.9,"v":79.9},{"r":"Po","d":96.5,"v":78.9},{"r":"Po","d":101.2,"v":74.1},{"r":"Po","d":104.7,"v":68.4},{"r":"Po","d":108.2,"v":61.7},{"r":"Po","d":109.5,"v":62},{"r":"Po","d":111.8,"v":76},{"r":"Po","d":114.1,"v":80.8},{"r":"Po","d":116.5,"v":80},{"r":"Po","d":118.8,"v":76},{"r":"Po","d":121.2,"v":74.1},{"r":"Po","d":123.5,"v":81.8},{"r":"Po","d":125.9,"v":82.8},{"r":"Po","d":128.2,"v":80.8},{"r":"Po","d":131.8,"v":75.1},{"r":"Po","d":135.3,"v":69.3},{"r":"Po","d":138.8,"v":62.6},{"r":"Po","d":141.2,"v":61.7},{"r":"Po","d":143.5,"v":65.5},{"r":"Po","d":146,"v":62.6},{"r":"Po","d":149.4,"v":64.6},{"r":"Po","d":152.9,"v":62.6},{"r":"Po","d":155.3,"v":63.6},{"r":"Po","d":157.6,"v":65.5},{"r":"Po","d":159.4,"v":64.6},{"r":"Po","d":162.4,"v":56.9},{"r":"Po","d":165.9,"v":49.2},{"r":"Po","d":169.4,"v":43.5},{"r":"Po","d":172.9,"v":41.6},{"r":"Po","d":175.3,"v":47.3},{"r":"Po","d":177.6,"v":61.7},{"r":"Po","d":180,"v":62.6},{"r":"Po","d":182.4,"v":56.9},{"r":"Po","d":185.9,"v":53.1},{"r":"Po","d":189.4,"v":47.3},{"r":"Po","d":192.9,"v":43.5},{"r":"Po","d":196.5,"v":39.7},{"r":"Po","d":200,"v":35.8},{"r":"Po","d":203.5,"v":33.9},{"r":"Po","d":205.9,"v":34.9},{"r":"Po","d":208.2,"v":43.5},{"r":"Po","d":209.4,"v":51.1},{"r":"Po","d":211.8,"v":47.3},{"r":"Po","d":214.1,"v":45.4},{"r":"Po","d":217.6,"v":52.1},{"r":"Po","d":220,"v":48.3},{"r":"Po","d":222.4,"v":47.3},{"r":"Po","d":224.7,"v":45.4},{"r":"Po","d":227.1,"v":46.4},{"r":"Po","d":228.8,"v":66.5},{"r":"Po","d":230.6,"v":64.6},{"r":"Po","d":232.9,"v":60.7},{"r":"Po","d":236.5,"v":56.9},{"r":"Po","d":238.5,"v":55.9},{"r":"Po","d":240.9,"v":60.7},{"r":"Po","d":243.2,"v":66.5},{"r":"Po","d":245.6,"v":64.6},{"r":"Po","d":248,"v":68.4},{"r":"Po","d":250.3,"v":65.5},{"r":"Po","d":253.8,"v":67.4},{"r":"Po","d":256.2,"v":64.6},{"r":"Po","d":258.5,"v":68.4},{"r":"Po","d":262,"v":64.6},{"r":"Po","d":264.4,"v":60.7},{"r":"Po","d":266.8,"v":66.5},{"r":"Po","d":269.1,"v":69.3},{"r":"Po","d":271.5,"v":74.1},{"r":"Po","d":273.8,"v":76},{"r":"Po","d":276.2,"v":72.2},{"r":"Po","d":279.1,"v":74.1},{"r":"Po","d":282.1,"v":72.2},{"r":"Po","d":285.6,"v":70.3},{"r":"Po","d":289.1,"v":67.4},{"r":"Po","d":291.5,"v":71.3},{"r":"Po","d":293.8,"v":78},{"r":"Po","d":296.2,"v":81.8},{"r":"Po","d":298.5,"v":84.7},{"r":"Po","d":302.6,"v":80.8},{"r":"Po","d":306.8,"v":80.8},{"r":"Po","d":309.1,"v":83.7},{"r":"Po","d":311.5,"v":84.7},{"r":"Po","d":315,"v":85.6},{"r":"Po","d":318.5,"v":88.5},{"r":"Po","d":320.9,"v":89.5},{"r":"Po","d":323.2,"v":91.4},{"r":"Po","d":325.6,"v":92.3},{"r":"Po","d":327.9,"v":93.3},{"r":"Po","d":331.5,"v":94.3},{"r":"Po","d":335,"v":95.2},{"r":"Po","d":338.5,"v":96.2},{"r":"Po","d":342.1,"v":97.1},{"r":"Po","d":346.8,"v":97.5},{"r":"Po","d":351.5,"v":98.1},{"r":"Po","d":356.2,"v":98.7},{"r":"Po","d":360,"v":98.7},
{"r":"Rhine","d":0,"v":100},{"r":"Rhine","d":30,"v":100},{"r":"Rhine","d":55.3,"v":99.4},{"r":"Rhine","d":60,"v":96.2},{"r":"Rhine","d":64.7,"v":92.3},{"r":"Rhine","d":68.2,"v":87.5},{"r":"Rhine","d":70.6,"v":85.6},{"r":"Rhine","d":71.8,"v":90.4},{"r":"Rhine","d":74.1,"v":90.4},{"r":"Rhine","d":77.6,"v":87.5},{"r":"Rhine","d":81.2,"v":81.8},{"r":"Rhine","d":85.9,"v":74.1},{"r":"Rhine","d":87,"v":75.1},{"r":"Rhine","d":89.4,"v":85.6},{"r":"Rhine","d":91.8,"v":86.6},{"r":"Rhine","d":94.1,"v":87.5},{"r":"Rhine","d":95.9,"v":98.1},{"r":"Rhine","d":97,"v":100},{"r":"Rhine","d":98.8,"v":99},{"r":"Rhine","d":101.2,"v":95.2},{"r":"Rhine","d":104.7,"v":91.4},{"r":"Rhine","d":108.2,"v":83.7},{"r":"Rhine","d":110.6,"v":76},{"r":"Rhine","d":112.4,"v":81.8},{"r":"Rhine","d":113.5,"v":87.5},{"r":"Rhine","d":115.5,"v":86},{"r":"Rhine","d":117.6,"v":83.7},{"r":"Rhine","d":119,"v":82.5},{"r":"Rhine","d":121.2,"v":79.9},{"r":"Rhine","d":123.5,"v":80.8},{"r":"Rhine","d":125.9,"v":75.1},{"r":"Rhine","d":128,"v":75},{"r":"Rhine","d":130.6,"v":70.3},{"r":"Rhine","d":134.1,"v":64.6},{"r":"Rhine","d":136.5,"v":62.6},{"r":"Rhine","d":138.8,"v":61.7},{"r":"Rhine","d":141.2,"v":56.9},{"r":"Rhine","d":144.7,"v":58.8},{"r":"Rhine","d":148.2,"v":55},{"r":"Rhine","d":151.8,"v":51.1},{"r":"Rhine","d":154.1,"v":50.2},{"r":"Rhine","d":156.5,"v":55},{"r":"Rhine","d":158.8,"v":62.6},{"r":"Rhine","d":161.2,"v":58.8},{"r":"Rhine","d":163.5,"v":53.1},{"r":"Rhine","d":165.9,"v":47.3},{"r":"Rhine","d":168.2,"v":41.6},{"r":"Rhine","d":170.6,"v":39.7},{"r":"Rhine","d":172.9,"v":43.5},{"r":"Rhine","d":175.3,"v":47.3},{"r":"Rhine","d":177.6,"v":55},{"r":"Rhine","d":180,"v":58.8},{"r":"Rhine","d":182.4,"v":55},{"r":"Rhine","d":185.9,"v":49.2},{"r":"Rhine","d":189.4,"v":41.6},{"r":"Rhine","d":194.1,"v":33.9},{"r":"Rhine","d":198.8,"v":26.2},{"r":"Rhine","d":201.2,"v":29.1},{"r":"Rhine","d":205.9,"v":27.2},{"r":"Rhine","d":210.6,"v":26.2},{"r":"Rhine","d":215.3,"v":24.3},{"r":"Rhine","d":220,"v":20.5},{"r":"Rhine","d":223.5,"v":17.6},{"r":"Rhine","d":225.3,"v":15.7},{"r":"Rhine","d":227.1,"v":20.5},{"r":"Rhine","d":230.6,"v":30.1},{"r":"Rhine","d":235.3,"v":26.2},{"r":"Rhine","d":238.5,"v":29.1},{"r":"Rhine","d":240.9,"v":33.9},{"r":"Rhine","d":243.2,"v":34.9},{"r":"Rhine","d":245.6,"v":33.9},{"r":"Rhine","d":248,"v":35.8},{"r":"Rhine","d":250.3,"v":41.6},{"r":"Rhine","d":252.6,"v":45.4},{"r":"Rhine","d":255,"v":49.2},{"r":"Rhine","d":257.4,"v":55},{"r":"Rhine","d":259.7,"v":58.8},{"r":"Rhine","d":263.2,"v":60.7},{"r":"Rhine","d":265.6,"v":64.6},{"r":"Rhine","d":268,"v":68.4},{"r":"Rhine","d":270.3,"v":74.1},{"r":"Rhine","d":273.2,"v":81.8},{"r":"Rhine","d":275.5,"v":79.9},{"r":"Rhine","d":277.8,"v":78},{"r":"Rhine","d":281.3,"v":76},{"r":"Rhine","d":283.6,"v":74.1},{"r":"Rhine","d":286.3,"v":79.9},{"r":"Rhine","d":288.6,"v":81.8},{"r":"Rhine","d":291,"v":85.6},{"r":"Rhine","d":294.6,"v":84.7},{"r":"Rhine","d":298.1,"v":86.6},{"r":"Rhine","d":302.8,"v":81.8},{"r":"Rhine","d":305.1,"v":83.7},{"r":"Rhine","d":307.5,"v":84.7},{"r":"Rhine","d":309.8,"v":86.6},{"r":"Rhine","d":314.6,"v":84.7},{"r":"Rhine","d":319.5,"v":89.5},{"r":"Rhine","d":321.9,"v":92.3},{"r":"Rhine","d":325.4,"v":94.3},{"r":"Rhine","d":329,"v":95.2},{"r":"Rhine","d":333.6,"v":96.2},{"r":"Rhine","d":339.5,"v":97.1},{"r":"Rhine","d":345.4,"v":96.2},{"r":"Rhine","d":349,"v":95.2},{"r":"Rhine","d":352.5,"v":97.1},{"r":"Rhine","d":354.8,"v":99},{"r":"Rhine","d":360,"v":99.4},
{"r":"Seine","d":0,"v":98.1},{"r":"Seine","d":10.6,"v":99},{"r":"Seine","d":22.4,"v":98.1},{"r":"Seine","d":29.4,"v":97.1},{"r":"Seine","d":35.3,"v":99.4},{"r":"Seine","d":43.5,"v":97.5},{"r":"Seine","d":45.3,"v":99},{"r":"Seine","d":51.8,"v":98.1},{"r":"Seine","d":55.3,"v":97.1},{"r":"Seine","d":58.8,"v":95.2},{"r":"Seine","d":63.5,"v":92.3},{"r":"Seine","d":68.2,"v":87.5},{"r":"Seine","d":70,"v":94.3},{"r":"Seine","d":71.8,"v":97.1},{"r":"Seine","d":74.1,"v":96.2},{"r":"Seine","d":77.6,"v":89.5},{"r":"Seine","d":81.2,"v":81.8},{"r":"Seine","d":84.7,"v":76},{"r":"Seine","d":86.5,"v":72.2},{"r":"Seine","d":88.2,"v":78},{"r":"Seine","d":90,"v":81.8},{"r":"Seine","d":92.9,"v":79.9},{"r":"Seine","d":95.3,"v":79.9},{"r":"Seine","d":96.5,"v":98.1},{"r":"Seine","d":97.6,"v":98.7},{"r":"Seine","d":100,"v":93.3},{"r":"Seine","d":102.4,"v":87.5},{"r":"Seine","d":105.9,"v":81.8},{"r":"Seine","d":108.8,"v":77},{"r":"Seine","d":110.6,"v":72.2},{"r":"Seine","d":113.5,"v":78.9},{"r":"Seine","d":115.3,"v":78},{"r":"Seine","d":117.6,"v":72.2},{"r":"Seine","d":120,"v":65.5},{"r":"Seine","d":123.5,"v":59.8},{"r":"Seine","d":127,"v":53.1},{"r":"Seine","d":129.4,"v":48.3},{"r":"Seine","d":131.8,"v":47.3},{"r":"Seine","d":134.1,"v":43.5},{"r":"Seine","d":136.5,"v":39.7},{"r":"Seine","d":138.8,"v":37.7},{"r":"Seine","d":140.6,"v":36.8},{"r":"Seine","d":141.8,"v":47.3},{"r":"Seine","d":144,"v":45},{"r":"Seine","d":147,"v":39.7},{"r":"Seine","d":150.6,"v":33.9},{"r":"Seine","d":152.9,"v":30.1},{"r":"Seine","d":154.1,"v":29.1},{"r":"Seine","d":157.6,"v":47.3},{"r":"Seine","d":159.4,"v":45.4},{"r":"Seine","d":162.4,"v":37.7},{"r":"Seine","d":165.9,"v":30.1},{"r":"Seine","d":167.6,"v":24.3},{"r":"Seine","d":169.4,"v":33.9},{"r":"Seine","d":171.2,"v":35.8},{"r":"Seine","d":172.9,"v":39.7},{"r":"Seine","d":175.3,"v":45.4},{"r":"Seine","d":177.6,"v":51.1},{"r":"Seine","d":178.8,"v":55},{"r":"Seine","d":180,"v":49.2},{"r":"Seine","d":182.4,"v":41.6},{"r":"Seine","d":185.9,"v":32},{"r":"Seine","d":189.4,"v":26.2},{"r":"Seine","d":194.1,"v":20.5},{"r":"Seine","d":198.8,"v":16.7},{"r":"Seine","d":200,"v":14.8},{"r":"Seine","d":201.5,"v":17},{"r":"Seine","d":203.5,"v":14.8},{"r":"Seine","d":208.2,"v":12.8},{"r":"Seine","d":212.9,"v":10.9},{"r":"Seine","d":218.8,"v":9},{"r":"Seine","d":222.4,"v":6.1},{"r":"Seine","d":224.7,"v":5.2},{"r":"Seine","d":227.1,"v":9},{"r":"Seine","d":229.4,"v":12.8},{"r":"Seine","d":231.8,"v":14.8},{"r":"Seine","d":234.1,"v":12.8},{"r":"Seine","d":236.5,"v":9},{"r":"Seine","d":238.5,"v":12.8},{"r":"Seine","d":242,"v":14.8},{"r":"Seine","d":245.6,"v":18.6},{"r":"Seine","d":248,"v":24.3},{"r":"Seine","d":250.3,"v":26.2},{"r":"Seine","d":255,"v":28.2},{"r":"Seine","d":257.4,"v":29.1},{"r":"Seine","d":259.7,"v":27.2},{"r":"Seine","d":262,"v":26.2},{"r":"Seine","d":264.4,"v":25.3},{"r":"Seine","d":269.1,"v":30.1},{"r":"Seine","d":271.5,"v":33.9},{"r":"Seine","d":273.8,"v":39.7},{"r":"Seine","d":276.2,"v":43.5},{"r":"Seine","d":278.5,"v":41.6},{"r":"Seine","d":282.1,"v":39.7},{"r":"Seine","d":284.4,"v":35.8},{"r":"Seine","d":286.8,"v":40.6},{"r":"Seine","d":289.1,"v":45.4},{"r":"Seine","d":291.5,"v":47.3},{"r":"Seine","d":293.8,"v":51.1},{"r":"Seine","d":297.4,"v":50.2},{"r":"Seine","d":300.9,"v":47.3},{"r":"Seine","d":303.2,"v":52.1},{"r":"Seine","d":305.6,"v":54},{"r":"Seine","d":308,"v":55.9},{"r":"Seine","d":310.3,"v":58.8},{"r":"Seine","d":312.6,"v":61.7},{"r":"Seine","d":315,"v":65.5},{"r":"Seine","d":317.4,"v":68.4},{"r":"Seine","d":319.7,"v":72.2},{"r":"Seine","d":322.1,"v":75.1},{"r":"Seine","d":324.4,"v":76},{"r":"Seine","d":326.8,"v":77},{"r":"Seine","d":330.3,"v":78.9},{"r":"Seine","d":333.8,"v":78.9},{"r":"Seine","d":337.3,"v":79.9},{"r":"Seine","d":340.9,"v":78.9},{"r":"Seine","d":344.5,"v":78},{"r":"Seine","d":350.3,"v":77},{"r":"Seine","d":352.1,"v":83.7},{"r":"Seine","d":353.8,"v":90.4},{"r":"Seine","d":356.2,"v":92.3},{"r":"Seine","d":360,"v":93.3}
]
},
"vconcat": [
{
 "width": 1023, "height": 171,
 "title": "AWD 0–100 cm",
 "encoding": {
  "y": {"field": "v", "type": "quantitative", "scale": {"domain": [-53.4, 21.6], "nice": false, "zero": false}, "axis": {"title": "AWD [mm]", "values": [20,10,0,-10,-20,-30,-40,-50], "labelOverlap": false}}
 },
 "layer": [
  {"data": {"values": [{"v": 0}]}, "mark": {"type": "rule", "color": "#cfcfcf", "strokeDash": [6, 4], "strokeWidth": 1}, "encoding": {}},
  {"data": {"name": "awd"}, "mark": {"type": "line", "strokeWidth": 1.7, "clip": true},
   "encoding": {
    "x": {"field": "d", "type": "quantitative", "scale": {"domain": [0, 360.3], "nice": false, "zero": false}, "axis": {"title": null, "values": [0,31,59,90,120,151,181,212,243,273,304,334], "labelExpr": "timeFormat(datetime(2021, 0, 1 + datum.value), '%-d.%-m.')"}},
    "color": {"field": "r", "type": "nominal", "scale": {"domain": ["Douro","Glomma","Loire","Po","Rhine","Seine"], "range": ["#339933","#2b2b8c","#9e1b1b","#3fe03f","#2222e0","#ee2020"]}}
   }}
 ]
},
{
 "width": 1023, "height": 171,
 "title": "AWR 0–100 cm",
 "data": {"name": "awr"},
 "mark": {"type": "line", "strokeWidth": 1.7, "clip": true},
 "encoding": {
  "x": {"field": "d", "type": "quantitative", "scale": {"domain": [0, 360.3], "nice": false, "zero": false}, "axis": {"title": null, "values": [0,31,59,90,120,151,181,212,243,273,304,334], "labelExpr": "timeFormat(datetime(2021, 0, 1 + datum.value), '%-d.%-m.')"}},
  "y": {"field": "v", "type": "quantitative", "scale": {"domain": [2.7, 101.2], "nice": false, "zero": false}, "axis": {"title": "AWR [%]", "values": [20,40,60,80,100], "labelOverlap": false}},
  "color": {"field": "r", "type": "nominal", "scale": {"domain": ["Douro","Glomma","Loire","Po","Rhine","Seine"], "range": ["#339933","#2b2b8c","#9e1b1b","#3fe03f","#2222e0","#ee2020"]}}
 }
}
]
}
